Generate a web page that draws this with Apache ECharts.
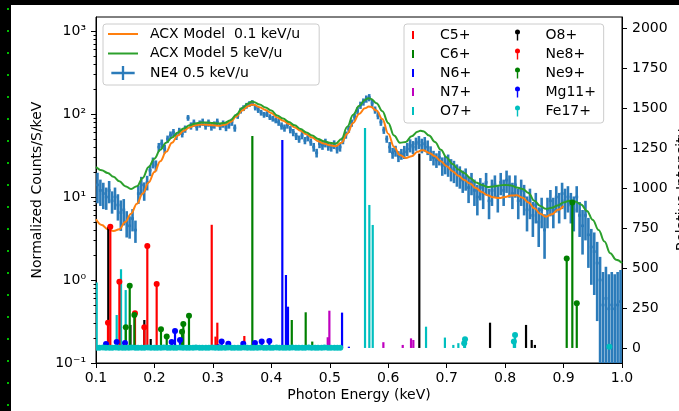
<!DOCTYPE html>
<html><head><meta charset="utf-8">
<script src="https://cdn.jsdelivr.net/npm/echarts@6/dist/echarts.min.js"></script>
<style>
html,body{margin:0;padding:0;background:#000;width:679px;height:411px;overflow:hidden}
#paper{position:absolute;left:11px;top:5px;right:0;bottom:0;background:#fff}
#dots{position:absolute;left:6px;top:0;width:4px;height:411px;background-image:radial-gradient(circle,#0b0 1px,transparent 1.5px);background-size:4px 22px;background-position:0 -2px}
#chart{position:absolute;left:0;top:0;width:679px;height:411px}
</style></head>
<body><div id="paper"></div><div id="dots"></div><div id="chart"></div>
<script>
// ---------------- data ----------------
// NE4 0.5 keV/u spectrum: bins of 0.005 keV starting at 0.1 keV
const binStart = 0.1, binWidth = 0.005;
const ne4Counts = [
 14,12,11,10,12,9,10,8,6.5,7,
 5,4.5,5.5,4,11,14,12,15,21,26,
 24,40,44,38,50,56,60,54,62,58,
 66,90,72,78,70,76,80,72,78,70,
 74,80,71,76,69,74,80,68,95,110,
 118,126,132,136,120,112,104,98,100,92,
 88,84,80,72,68,74,65,60,54,50,
 55,48,52,46,40,34,44,42,45,41,
 40,43,38,40,48,56,66,78,92,110,
 128,140,152,158,135,112,96,80,64,50,
 40,34,36,31,33,35,38,42,40,44,
 46,42,44,40,34,30,28,30,24,25,
 25,22,21,19,18,16,17,13,15,12,
 10,13,11,15,9,12,14,10,15,12,
 16,14,11,14,9,12,10,7,9,6,
 8,5,7,4,7,9,7,10,8,11,
 9,10,8,7,10,6,4.5,6,3.5,2.5,
 2.2,1.6,1.0,0.5,0.6,0.45,0.5,0.45,0.5,0.55
];
const ne4RelErr = [
 0.4,0.35,0.35,0.3,0.3,0.3,0.3,0.35,0.4,0.35,
 0.35,0.3,0.3,0.3,0.25,0.25,0.25,0.2,0.15,0.15,
 0.15,0.12,0.12,0.12,0.1,0.1,0.1,0.1,0.1,0.1,
 0.1,0.08,0.1,0.1,0.1,0.1,0.1,0.1,0.1,0.1,
 0.1,0.1,0.1,0.1,0.1,0.1,0.1,0.1,0.08,0.08,
 0.08,0.08,0.08,0.08,0.08,0.08,0.08,0.08,0.08,0.08,
 0.08,0.08,0.1,0.1,0.1,0.1,0.1,0.1,0.1,0.1,
 0.1,0.1,0.1,0.1,0.12,0.12,0.12,0.12,0.12,0.12,
 0.12,0.12,0.12,0.12,0.1,0.1,0.1,0.1,0.1,0.1,
 0.1,0.1,0.1,0.1,0.1,0.1,0.1,0.1,0.1,0.1,
 0.15,0.15,0.15,0.15,0.15,0.18,0.18,0.18,0.18,0.18,
 0.18,0.2,0.2,0.2,0.2,0.2,0.2,0.2,0.25,0.25,
 0.3,0.3,0.3,0.3,0.3,0.3,0.3,0.35,0.3,0.35,
 0.4,0.3,0.35,0.3,0.4,0.35,0.3,0.35,0.3,0.35,
 0.3,0.3,0.35,0.3,0.4,0.35,0.4,0.45,0.4,0.45,
 0.4,0.5,0.4,0.55,0.4,0.35,0.4,0.35,0.4,0.35,
 0.4,0.35,0.4,0.45,0.35,0.45,0.55,0.5,0.6,0.65,
 0.7,0.8,0.9,1.5,1.4,1.6,1.5,1.6,1.5,1.4
];
// ACX model curves
const acx01E = [0.10,0.11,0.12,0.13,0.14,0.15,0.16,0.17,0.18,0.19,0.20,0.21,0.22,0.23,0.24,0.25,0.26,0.27,0.28,0.29,0.30,0.31,0.32,0.33,0.34,0.35,0.36,0.367,0.37,0.38,0.39,0.40,0.41,0.42,0.43,0.44,0.45,0.46,0.47,0.48,0.49,0.50,0.51,0.52,0.53,0.54,0.55,0.56,0.567,0.57,0.58,0.59,0.60,0.61,0.62,0.63,0.64,0.65,0.657,0.66,0.67,0.68,0.69,0.70,0.71,0.72,0.73,0.74,0.75,0.76,0.77,0.78,0.79,0.80,0.81,0.82,0.83,0.84,0.85,0.86,0.87,0.88,0.89,0.90];
const acx01V = [5.4,4.6,4.1,3.9,4.1,5.0,6.3,8.3,11,15,20,27,35,45,55,63,69,73,75,74,73,72,74,80,93,110,124,130,129,121,112,103,91,83,76,69,63,57,52,47,44,42,41,45,58,78,100,117,123,122,110,87,58,40,32,29.5,31,35,36.5,36.5,34,31,27,23.5,20.5,18,16,14.5,12.8,11.5,10.5,9.9,9.7,10,10.4,10.5,9.8,8.6,7.3,6.3,5.8,6.2,7.0,7.8];
const acx5E = [0.10,0.11,0.12,0.13,0.14,0.15,0.16,0.17,0.18,0.19,0.20,0.21,0.22,0.23,0.24,0.25,0.26,0.27,0.28,0.29,0.30,0.31,0.32,0.33,0.34,0.35,0.36,0.367,0.37,0.38,0.39,0.40,0.41,0.42,0.43,0.44,0.45,0.46,0.47,0.48,0.49,0.50,0.51,0.52,0.53,0.54,0.55,0.56,0.566,0.57,0.58,0.59,0.60,0.61,0.62,0.63,0.64,0.65,0.655,0.66,0.67,0.68,0.69,0.70,0.71,0.72,0.73,0.74,0.75,0.76,0.77,0.78,0.79,0.80,0.81,0.82,0.83,0.84,0.85,0.86,0.87,0.88,0.89,0.90,0.91,0.92,0.93,0.94,0.95,0.96,0.97,0.98,0.99,1.00];
const acx5V = [23,21,19.5,17.5,15.5,13.5,12.5,13.5,17,23,29,37,45,52,60,67,73,77,79,79,78,77,78,84,98,118,134,141,140,130,120,110,96,88,80,73,66,60,55,50,47,45,44,50,70,98,125,148,155,153,135,108,78,55,45,46,54,61,63,62,55,46,37,30,25,21.5,19.5,17,15,14,13.2,13.4,13.8,14,13.8,13,12.5,11.2,9,7.8,7.2,7.4,7.9,8.6,9.0,8.8,8.1,6.8,5.3,4.0,2.9,2.1,1.75,1.6];
// line intensities (right axis): [energy keV, relative intensity]
const c5 = [[0.298,770],[0.3045,71],[0.3076,158],[0.3538,75]];
const c6 = [[0.3675,1325],[0.435,175],[0.4588,223],[0.470,40]];
const n6 = [[0.4188,1300],[0.425,456],[0.4285,258],[0.521,221],[0.5327,8]];
const n7 = [[0.4965,67],[0.4993,233],[0.5917,36],[0.6248,19],[0.639,60],[0.643,50]];
const o7 = [[0.1012,410],[0.1354,206],[0.1428,492],[0.1508,362],[0.5603,1375],[0.5677,894],[0.5735,769],[0.6647,133],[0.697,65],[0.7114,19],[0.72,30]];
const o8 = [[0.121,758],[0.159,144],[0.1827,175],[0.1936,56],[0.6532,1215],[0.7742,158],[0.8358,144],[0.8455,50],[0.851,19]];
const ne8 = [[0.1205,158],[0.1245,758],[0.140,414],[0.1667,217],[0.1827,129],[0.1878,637],[0.2038,400]];
const ne9 = [[0.151,129],[0.1577,389],[0.1656,206],[0.2112,117],[0.221,71],[0.2472,102],[0.2494,150],[0.2591,202],[0.9054,560],[0.915,910],[0.9226,279]];
const mg11 = [[0.1171,25],[0.1354,37],[0.1496,31],[0.2295,37],[0.2352,106],[0.2437,50],[0.3093,5],[0.315,40],[0.3264,27],[0.352,27],[0.372,31],[0.3835,40],[0.3966,44]];
const fe17 = [[0.101,2],[0.106,1],[0.112,3],[0.117,2],[0.123,1],[0.128,2],[0.134,3],[0.139,2],[0.145,1],[0.150,2],[0.156,2],[0.161,3],[0.167,1],[0.172,2],[0.178,2],[0.183,1],[0.189,3],[0.194,2],[0.200,2],[0.205,1],[0.211,2],[0.216,3],[0.222,2],[0.227,1],[0.233,2],[0.238,2],[0.244,3],[0.249,1],[0.255,2],[0.260,2],[0.266,1],[0.271,3],[0.277,2],[0.282,2],[0.288,1],[0.293,2],[0.299,3],[0.304,2],[0.310,1],[0.315,2],[0.321,2],[0.326,3],[0.332,1],[0.337,2],[0.343,2],[0.348,1],[0.354,3],[0.359,2],[0.365,2],[0.370,1],[0.376,2],[0.381,3],[0.387,2],[0.392,1],[0.398,2],[0.403,2],[0.409,3],[0.414,1],[0.420,2],[0.425,2],[0.431,1],[0.436,3],[0.442,2],[0.447,2],[0.453,1],[0.458,2],[0.464,3],[0.469,2],[0.475,1],[0.480,2],[0.486,2],[0.491,3],[0.497,1],[0.502,2],[0.508,2],[0.513,1],[0.518,2],[0.7300,30],[0.7314,54],[0.815,40],[0.817,81],[0.9783,8]];
// axis ticks
const xTicks = {min:0.1, max:1.0, step:0.1};
const logMajorTicks = [0.1, 1, 10, 100, 1000];
const logMajorLabels = ['10\u207B\u00B9','10\u2070','10\u00B9','10\u00B2','10\u00B3'];
const logMinorMult = [2,3,4,5,6,7,8,9];
const rightTicks = [0,250,500,750,1000,1250,1500,1750,2000];

// ---------------- chart ----------------
const FONT = 'DejaVu Sans';
const LOG_MIN = 0.1, LOG_MAX = 1475, R_MIN = -94, R_MAX = 2069;
const minorTicks = [];
logMajorTicks.forEach(d => logMinorMult.forEach(m => { if (d*m < LOG_MAX) minorTicks.push(d*m); }));

const ne4Data = ne4Counts.map((v, i) => {
  const e = binStart + binWidth*(i + 0.5);
  const r = ne4RelErr[i];
  const lo = v*(1 - r);
  return [e, v, lo > 0 ? lo : 1e-4, v*(1 + r)];
});

function errRender(params, api) {
  const e = api.value(0), v = api.value(1), lo = api.value(2), hi = api.value(3);
  const a = api.coord([e, hi]), b = api.coord([e, lo]);
  const l = api.coord([e - binWidth/2, v]), r = api.coord([e + binWidth/2, v]);
  const st = {stroke:'#2b7bba', lineWidth:2.6};
  return {type:'group', children:[
    {type:'line', shape:{x1:a[0], y1:a[1], x2:b[0], y2:b[1]}, style:st},
    {type:'line', shape:{x1:l[0], y1:l[1], x2:r[0], y2:r[1]}, style:st}
  ]};
}
function lineRender(color, marker) {
  return function (params, api) {
    const e = api.value(0), v = api.value(1);
    const p0 = api.coord([e, 0]), p1 = api.coord([e, v]);
    const ch = [{type:'line', shape:{x1:p0[0], y1:p0[1], x2:p1[0], y2:p1[1]}, style:{stroke:color, lineWidth:2.2}}];
    if (marker) ch.push({type:'circle', shape:{cx:p1[0], cy:p1[1], r:3}, style:{fill:color}});
    return {type:'group', children:ch};
  };
}
const ions = [
  {name:'C5+', data:c5, color:'#ff0000', marker:false},
  {name:'C6+', data:c6, color:'#008000', marker:false},
  {name:'N6+', data:n6, color:'#0000ff', marker:false},
  {name:'N7+', data:n7, color:'#bf00bf', marker:false},
  {name:'O7+', data:o7, color:'#00bfbf', marker:false},
  {name:'O8+', data:o8, color:'#000000', marker:false},
  {name:'Ne8+', data:ne8, color:'#ff0000', marker:true},
  {name:'Ne9+', data:ne9, color:'#008000', marker:true},
  {name:'Mg11+', data:mg11, color:'#0000ff', marker:true},
  {name:'Fe17+', data:fe17, color:'#00bfbf', marker:true}
];
const ionSeries = ions.map(s => ({
  name:s.name, type:'custom', xAxisIndex:0, yAxisIndex:1, clip:true, z:4,
  itemStyle:{color:s.color}, data:s.data, encode:{x:0, y:1},
  renderItem: lineRender(s.color, s.marker)
}));

const plusIcon = 'path://M0,5 h20 v2 h-20 z M9,0 h2 v12 h-2 z';
const lineIcon = 'path://M0,0 h30 v2 h-30 z';
const vlineIcon = 'path://M0,0 h2 v8 h-2 z';
const stemIcon = 'path://M0,2.5 A2.5,2.5 0 1 1 5,2.5 A2.5,2.5 0 1 1 0,2.5 Z M1.8,4 h1.4 v7 h-1.4 z';
const txt = {fontFamily:FONT, fontSize:14, color:'#000'};

const chart = echarts.init(document.getElementById('chart'), null, {renderer:'canvas'});
chart.setOption({
  animation:false,
  backgroundColor:'transparent',
  textStyle:{fontFamily:FONT},
  grid:{left:96, top:17, width:526, height:346, show:true, borderColor:'#000', borderWidth:1, backgroundColor:'#fff', containLabel:false, outerBoundsMode:'none'},
  xAxis:[{
    type:'value', min:xTicks.min, max:xTicks.max, interval:xTicks.step,
    axisLine:{show:true, onZero:false, lineStyle:{color:'#000', width:1}},
    axisTick:{show:true, length:5, lineStyle:{color:'#000'}},
    axisLabel:Object.assign({margin:8, formatter:v => v.toFixed(1)}, txt),
    splitLine:{show:false},
    name:'Photon Energy (keV)', nameLocation:'middle', nameGap:25, nameTextStyle:txt, nameMoveOverlap:false
  }],
  yAxis:[{
    type:'log', logBase:10, min:LOG_MIN, max:LOG_MAX, position:'left',
    axisLine:{show:true, lineStyle:{color:'#000', width:1}},
    axisTick:{show:true, length:5, lineStyle:{color:'#000'}, customValues:logMajorTicks},
    axisLabel:Object.assign({margin:10, customValues:logMajorTicks,
      formatter:v => logMajorLabels[Math.round(Math.log10(v)) + 1]}, txt),
    splitLine:{show:false}, minorTick:{show:false},
    name:'Normalized Counts/S/keV', nameLocation:'middle', nameRotate:90, nameGap:52, nameTextStyle:txt, nameMoveOverlap:false
  },{
    type:'value', min:R_MIN, max:R_MAX, position:'right',
    axisLine:{show:true, lineStyle:{color:'#000', width:1}},
    axisTick:{show:true, length:5, lineStyle:{color:'#000'}, customValues:rightTicks},
    axisLabel:Object.assign({margin:10, customValues:rightTicks, formatter:v => String(v)}, txt),
    splitLine:{show:false},
    name:'Relative Intensity', nameLocation:'middle', nameRotate:90, nameGap:53, nameTextStyle:txt, nameMoveOverlap:false
  },{
    type:'log', logBase:10, min:LOG_MIN, max:LOG_MAX, position:'left',
    axisLine:{show:false},
    axisTick:{show:true, length:2.5, lineStyle:{color:'#000'}, customValues:minorTicks},
    axisLabel:{show:false}, splitLine:{show:false}
  }],
  legend:[{
    data:[{name:'ACX Model  0.1 keV/u', icon:lineIcon},{name:'ACX Model 5 keV/u', icon:lineIcon},{name:'NE4 0.5 keV/u', icon:plusIcon}],
    orient:'vertical', left:103, top:24, padding:[3,19,5,5], itemWidth:30, itemHeight:14, itemGap:5.5,
    textStyle:Object.assign({lineHeight:14, padding:[0,0,0,7]}, txt),
    backgroundColor:'rgba(255,255,255,0.8)', borderColor:'#cccccc', borderWidth:1, borderRadius:3,
    selectedMode:false, z:6
  },{
    data:['C5+','C6+','N6+','N7+','O7+'], icon:vlineIcon,
    orient:'vertical', left:404, top:24, padding:[4,132,5,8], itemWidth:26, itemHeight:8, itemGap:5,
    textStyle:Object.assign({lineHeight:14, padding:[0,0,0,9]}, txt),
    backgroundColor:'rgba(255,255,255,0.8)', borderColor:'#cccccc', borderWidth:1, borderRadius:3,
    selectedMode:false, z:6
  },{
    data:['O8+','Ne8+','Ne9+','Mg11+','Fe17+'], icon:stemIcon,
    orient:'vertical', left:515, top:24, padding:[4,0,5,0], itemWidth:26, itemHeight:11, itemGap:5,
    textStyle:Object.assign({lineHeight:14, padding:[0,0,0,10]}, txt),
    selectedMode:false, z:7
  }],
  series:[{
    name:'NE4 0.5 keV/u', type:'custom', xAxisIndex:0, yAxisIndex:0, clip:true, z:2,
    itemStyle:{color:'#2b7bba'}, encode:{x:0, y:1}, data:ne4Data, renderItem:errRender
  },{
    name:'ACX Model  0.1 keV/u', type:'line', xAxisIndex:0, yAxisIndex:0, z:3,
    data:acx01E.map((e, i) => [e, acx01V[i]]), smooth:0.4, smoothMonotone:'x', symbol:'none', showSymbol:false,
    lineStyle:{color:'#ff7f0e', width:2}, itemStyle:{color:'#ff7f0e'}
  },{
    name:'ACX Model 5 keV/u', type:'line', xAxisIndex:0, yAxisIndex:0, z:3,
    data:acx5E.map((e, i) => [e, acx5V[i]]), smooth:0.4, smoothMonotone:'x', symbol:'none', showSymbol:false,
    lineStyle:{color:'#2ca02c', width:2}, itemStyle:{color:'#2ca02c'}
  }].concat(ionSeries)
});
</script></body></html>
